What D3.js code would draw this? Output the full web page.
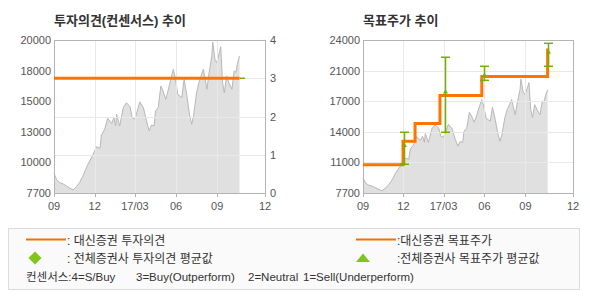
<!DOCTYPE html>
<html><head><meta charset="utf-8">
<script src="https://cdn.jsdelivr.net/npm/d3@7"></script>
<style>
body{margin:0;background:#fff;}
text{font-family:"Liberation Sans","Noto Sans CJK KR",sans-serif;}
</style>
</head><body>
<svg id="c" width="590" height="300"></svg>
<script>
// ---------- data ----------
const priceDates = ["2016-09-01","2016-09-07","2016-09-14","2016-09-22","2016-09-29","2016-10-07","2016-10-14","2016-10-21","2016-10-28","2016-11-06","2016-11-13","2016-11-21","2016-11-28","2016-12-05","2016-12-13","2016-12-16","2016-12-23","2016-12-30","2017-01-08","2017-01-13","2017-01-17","2017-01-19","2017-01-26","2017-02-03","2017-02-10","2017-02-18","2017-02-23","2017-03-01","2017-03-12","2017-03-20","2017-03-27","2017-04-02","2017-04-07","2017-04-13","2017-04-16","2017-04-22","2017-04-28","2017-05-03","2017-05-09","2017-05-15","2017-05-21","2017-05-26","2017-05-30","2017-06-05","2017-06-14","2017-06-19","2017-06-25","2017-07-01","2017-07-06","2017-07-10","2017-07-17","2017-07-22","2017-07-27","2017-08-01","2017-08-09","2017-08-14","2017-08-20","2017-08-22","2017-08-27","2017-08-31","2017-09-06","2017-09-09","2017-09-13","2017-09-17","2017-09-22","2017-09-28","2017-10-04","2017-10-09","2017-10-13","2017-10-16","2017-10-21"];
const priceValues = [9300,8750,8530,8420,8260,8080,7940,8210,8530,9150,9810,10350,10840,11420,11290,12360,12770,13700,13300,13750,13100,14030,13090,14560,14960,14640,13750,13630,15020,14560,13490,12690,13170,13090,14290,14560,16300,15900,15230,16040,16970,17650,16970,15640,15360,16840,15570,14030,13220,13870,15760,16570,17110,17650,16040,17370,18710,19840,18450,18170,18980,19460,16570,15760,17110,16500,16040,17510,17400,18050,18710];

const opinionDates = ["2016-09-01","2017-10-21"];
const opinionValues = [3,3];
const consensusOpinionDates = ["2017-10-21","2017-11-02"];
const consensusOpinionValues = [3,3];

const targetDates = ["2016-09-01","2016-11-30","2016-12-27","2017-02-21","2017-05-26","2017-10-21"];
const targetValues = [10700,13200,15100,18100,20100,23100];

const consensusTargetDates = ["2016-12-02","2017-03-05","2017-06-01","2017-10-22"];
const consensusTargetHigh = [14170,22160,21200,23650];
const consensusTargetLow  = [10760,14170,19700,21200];
const consensusTargetMean = [12740,18460,20240,22690];

const xDomain = ["2016-09-01","2017-12-17"];
const xTickDates = ["2016-09-01","2016-12-01","2017-03-01","2017-06-01","2017-09-01","2017-12-17"];
const xTickLabels = ["09","12","17/03","06","09","12"];

const leftPriceDomain = [7700,20000];
const leftPriceTickLabels = ["7700","10000","13000","15000","18000","20000"];
const opinionTicks = [0,1,2,3,4];
const rightPriceDomain = [7700,24000];
const rightPriceTickLabels = ["7700","11000","14000","17000","21000","24000"];

const titles = ["투자의견(컨센서스) 추이","목표주가 추이"];
const legendLeft = [": 대신증권 투자의견",": 전체증권사 투자의견 평균값"];
const legendRight = [":대신증권 목표주가",":전체증권사 목표주가 평균값"];
const consensusNote = ["컨센서스:4=S/Buy","3=Buy(Outperform)","2=Neutral","1=Sell(Underperform)"];

// ---------- drawing ----------
const P = d3.timeParse("%Y-%m-%d");
const svg = d3.select("#c");
const ORANGE = "#ff7400", GREEN = "#72b000", BORDER = "#b4b4b4", GRID = "#e9e9e9";
const plotTop = 40, plotBottom = 193;
const price = priceDates.map((d,i)=>({d:P(d),v:priceValues[i]}));

function evenTicks(dom,n){return d3.range(n).map(i=>dom[0]+i*(dom[1]-dom[0])/(n-1));}

function panel(x0,x1,yDom,tickLabels,titleText,gridVals,yGrid){
  const x = d3.scaleTime().domain(xDomain.map(P)).range([x0,x1]);
  const y = d3.scaleLinear().domain(yDom).range([plotBottom,plotTop]);
  const g = svg.append("g");
  g.append("path").datum(price)
    .attr("d", d3.area().x(d=>x(d.d)).y0(plotBottom).y1(d=>y(d.v)))
    .attr("fill","#e0e0e0");
  g.append("path").datum(price)
    .attr("d", d3.line().x(d=>x(d.d)).y(d=>y(d.v)))
    .attr("fill","none").attr("stroke","#b8b8b8").attr("stroke-width",1);
  xTickDates.slice(1,-1).forEach(t=>{
    const xx=Math.round(x(P(t)))+0.5;
    g.append("line").attr("x1",xx).attr("x2",xx).attr("y1",plotTop).attr("y2",plotBottom).attr("stroke",GRID);
  });
  gridVals.forEach(v=>{
    const yy=Math.round(yGrid(v))+0.5;
    g.append("line").attr("x1",x0).attr("x2",x1).attr("y1",yy).attr("y2",yy).attr("stroke",GRID);
  });
  g.append("rect").attr("x",x0+0.5).attr("y",plotTop+0.5).attr("width",x1-x0).attr("height",plotBottom-plotTop)
    .attr("fill","none").attr("stroke",BORDER);
  xTickDates.forEach((t,i)=>{
    const xx=Math.round(x(P(t)))+0.5;
    g.append("line").attr("x1",xx).attr("x2",xx).attr("y1",plotBottom).attr("y2",plotBottom+4).attr("stroke",BORDER);
    g.append("text").attr("x",x(P(t))).attr("y",210).attr("text-anchor","middle")
      .attr("font-size",11).attr("fill","#555").text(xTickLabels[i]);
  });
  evenTicks(yDom,tickLabels.length).forEach((v,i)=>{
    g.append("text").attr("x",x0-3).attr("y",y(v)+4).attr("text-anchor","end")
      .attr("font-size",11).attr("fill","#555").text(tickLabels[i]);
  });
  g.append("text").attr("x",x0).attr("y",25).attr("font-size",13).attr("font-weight","bold")
    .attr("fill","#333").text(titleText);
  return {x,y,g};
}

// Left panel
const yO = d3.scaleLinear().domain([0,4]).range([plotBottom,plotTop]);
const L = panel(54,265,leftPriceDomain,leftPriceTickLabels,titles[0],[1,2,3],yO);
opinionTicks.forEach(v=>{
  L.g.append("text").attr("x",270).attr("y",yO(v)+4).attr("font-size",11).attr("fill","#555").text(v);
});
L.g.append("path").datum(consensusOpinionDates.map((d,i)=>({d:P(d),v:consensusOpinionValues[i]})))
  .attr("d",d3.line().x(d=>L.x(d.d)).y(d=>yO(d.v))).attr("stroke",GREEN).attr("stroke-width",1.5).attr("fill","none");
L.g.append("path").datum(opinionDates.map((d,i)=>({d:P(d),v:opinionValues[i]})))
  .attr("d",d3.line().x(d=>L.x(d.d)).y(d=>yO(d.v))).attr("stroke",ORANGE).attr("stroke-width",3).attr("fill","none");

// Right panel
const yRtmp = d3.scaleLinear().domain(rightPriceDomain).range([plotBottom,plotTop]);
const R = panel(363,573,rightPriceDomain,rightPriceTickLabels,titles[1],evenTicks(rightPriceDomain,6).slice(1,-1),yRtmp);
R.g.append("path").datum(targetDates.map((d,i)=>({d:P(d),v:targetValues[i]})))
  .attr("d",d3.line().curve(d3.curveStepAfter).x(d=>R.x(d.d)).y(d=>R.y(d.v)))
  .attr("stroke",ORANGE).attr("stroke-width",3).attr("fill","none");
consensusTargetDates.forEach((d,i)=>{
  const xx=Math.round(R.x(P(d)))+0.5;
  const yh=R.y(consensusTargetHigh[i]), yl=R.y(consensusTargetLow[i]);
  R.g.append("line").attr("x1",xx).attr("x2",xx).attr("y1",yh).attr("y2",yl).attr("stroke",GREEN).attr("stroke-width",1.5);
  [yh,yl].forEach(yy=>R.g.append("line").attr("x1",xx-4.5).attr("x2",xx+4.5).attr("y1",yy).attr("y2",yy).attr("stroke",GREEN).attr("stroke-width",1.5));
  R.g.append("path").attr("d",d3.symbol(d3.symbolTriangle,10)()).attr("transform",`translate(${xx},${R.y(consensusTargetMean[i])})`).attr("fill",GREEN);
});

// Legend
const lg = svg.append("g");
lg.append("rect").attr("x",8.5).attr("y",228.5).attr("width",571).attr("height",61).attr("fill","#fafafa").attr("stroke","#dcdcdc");
lg.append("line").attr("x1",26).attr("x2",66).attr("y1",239.5).attr("y2",239.5).attr("stroke","#f07000").attr("stroke-width",2);
lg.append("line").attr("x1",356).attr("x2",396).attr("y1",239.5).attr("y2",239.5).attr("stroke","#f07000").attr("stroke-width",2);
lg.append("path").attr("d","M35,251.5 L41.5,258 L35,264.5 L28.5,258 Z").attr("fill","#80c41c");
lg.append("path").attr("d","M363,253.5 L370,262 L356,262 Z").attr("fill","#80c41c");
legendLeft.forEach((t,i)=>lg.append("text").attr("x",67).attr("y",244.5+i*18).attr("font-size",12).attr("fill","#333").text(t));
legendRight.forEach((t,i)=>lg.append("text").attr("x",397).attr("y",244.5+i*18).attr("font-size",12).attr("fill","#333").text(t));
const noteX = [26,136,248,303];
consensusNote.forEach((t,i)=>lg.append("text").attr("x",noteX[i]).attr("y",280.5).attr("font-size",11.5).attr("fill","#333").text(t));
</script>
</body></html>
